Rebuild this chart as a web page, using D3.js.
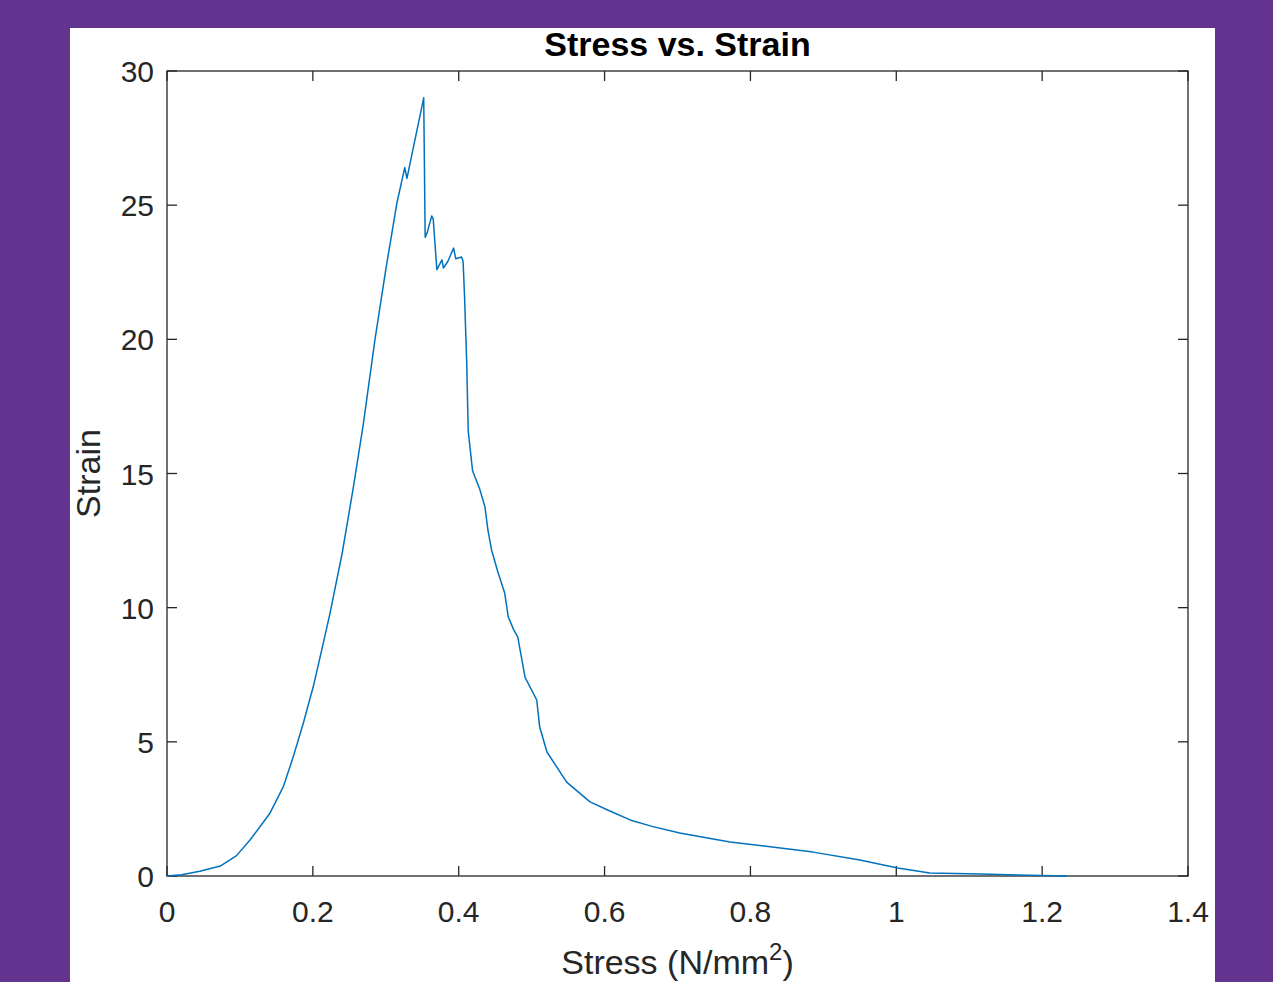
<!DOCTYPE html>
<html>
<head>
<meta charset="utf-8">
<script src="https://cdn.jsdelivr.net/npm/d3@7"></script>
<style>
  body { margin: 0; background: #62338f; }
  svg { display: block; }
  text { font-family: "Liberation Sans", Arial, Helvetica, sans-serif; fill: #262626; }
</style>
</head>
<body>
<svg id="chart"></svg>
<script>
// stress values (N/mm^2) and strain values
let stress = [0, 0.02, 0.045, 0.073, 0.095, 0.1138, 0.1412, 0.1595, 0.1732, 0.1869, 0.2006, 0.2121, 0.2235,
  0.2327, 0.2400, 0.2475, 0.255, 0.269, 0.2852, 0.300, 0.3154,
  0.326, 0.329, 0.352, 0.354, 0.357, 0.363, 0.365, 0.370, 0.377, 0.379, 0.385, 0.393, 0.396, 0.404, 0.406,
  0.408, 0.411, 0.413, 0.419, 0.429, 0.436, 0.440, 0.445, 0.454, 0.463, 0.468, 0.475, 0.481, 0.491, 0.507,
  0.511, 0.521, 0.548, 0.580, 0.605, 0.635, 0.665, 0.703, 0.772, 0.841, 0.886, 0.95, 1.002, 1.046, 1.115, 1.234];
let strain = [0, 0.05, 0.18, 0.37, 0.75, 1.34, 2.34, 3.33, 4.45, 5.69, 7.06, 8.42, 9.79,
  11.03, 12.0, 13.2, 14.4, 16.8, 20.0, 22.6, 25.1,
  26.4, 26.0, 29.0, 23.8, 24.0, 24.6, 24.5, 22.6, 22.96, 22.66, 22.9, 23.4, 23.0, 23.07, 22.9,
  21.6, 19.1, 16.6, 15.1, 14.4, 13.75, 12.9, 12.15, 11.3, 10.55, 9.65, 9.2, 8.9, 7.4, 6.56,
  5.56, 4.62, 3.5, 2.76, 2.45, 2.09, 1.85, 1.6, 1.27, 1.04, 0.89, 0.6, 0.3, 0.11, 0.07, 0];

let xTicks = [0, 0.2, 0.4, 0.6, 0.8, 1, 1.2, 1.4];
let yTicks = [0, 5, 10, 15, 20, 25, 30];

let width = 1273, height = 982;
let svg = d3.select('#chart').attr('width', width).attr('height', height);

// white figure panel
svg.append('rect')
  .attr('x', 70).attr('y', 28)
  .attr('width', 1145).attr('height', 954)
  .attr('fill', '#ffffff');

let plotLeft = 167, plotRight = 1188, plotTop = 71, plotBottom = 876;

let x = d3.scaleLinear().domain([0, 1.4]).range([plotLeft, plotRight]);
let y = d3.scaleLinear().domain([0, 30]).range([plotBottom, plotTop]);

let tickLen = 10;
let axisColor = '#262626';

// box
svg.append('rect')
  .attr('x', plotLeft).attr('y', plotTop)
  .attr('width', plotRight - plotLeft).attr('height', plotBottom - plotTop)
  .attr('fill', 'none')
  .attr('stroke', axisColor)
  .attr('stroke-width', 1.3);

let g = svg.append('g');

// x ticks bottom + top (inward)
g.selectAll('.xt').data(xTicks).enter()
  .append('line')
    .attr('x1', d => x(d)).attr('x2', d => x(d))
    .attr('y1', plotBottom).attr('y2', plotBottom - tickLen)
    .attr('stroke', axisColor).attr('stroke-width', 1.3);
g.selectAll('.xtt').data(xTicks).enter()
  .append('line')
    .attr('x1', d => x(d)).attr('x2', d => x(d))
    .attr('y1', plotTop).attr('y2', plotTop + tickLen)
    .attr('stroke', axisColor).attr('stroke-width', 1.3);

// y ticks left + right
g.selectAll('.yt').data(yTicks).enter()
  .append('line')
    .attr('x1', plotLeft).attr('x2', plotLeft + tickLen)
    .attr('y1', d => y(d)).attr('y2', d => y(d))
    .attr('stroke', axisColor).attr('stroke-width', 1.3);
g.selectAll('.ytr').data(yTicks).enter()
  .append('line')
    .attr('x1', plotRight).attr('x2', plotRight - tickLen)
    .attr('y1', d => y(d)).attr('y2', d => y(d))
    .attr('stroke', axisColor).attr('stroke-width', 1.3);

// tick labels
g.selectAll('.xl').data(xTicks).enter()
  .append('text')
    .attr('x', d => x(d))
    .attr('y', plotBottom + 46)
    .attr('text-anchor', 'middle')
    .style('font-size', '30px')
    .text(d => d);

g.selectAll('.yl').data(yTicks).enter()
  .append('text')
    .attr('x', plotLeft - 13)
    .attr('y', d => y(d) + 11)
    .attr('text-anchor', 'end')
    .style('font-size', '30px')
    .text(d => d);

// the curve
let line = d3.line()
  .x((d, i) => x(stress[i]))
  .y((d, i) => y(strain[i]));

svg.append('path')
  .datum(stress)
  .attr('d', line)
  .attr('fill', 'none')
  .attr('stroke', '#0072bd')
  .attr('stroke-width', 1.5)
  .attr('stroke-linejoin', 'round');

// title
svg.append('text')
  .attr('x', (plotLeft + plotRight) / 2)
  .attr('y', 56)
  .attr('text-anchor', 'middle')
  .style('font-size', '34px')
  .style('font-weight', 'bold')
  .style('fill', '#000')
  .text('Stress vs. Strain');

// x label
let xl = svg.append('text')
  .attr('x', (plotLeft + plotRight) / 2)
  .attr('y', 974)
  .attr('text-anchor', 'middle')
  .style('font-size', '34px');
xl.append('tspan').text('Stress (N/mm');
xl.append('tspan').attr('dy', -14).style('font-size', '24px').text('2');
xl.append('tspan').attr('dy', 14).text(')');

// y label
svg.append('text')
  .attr('transform', `translate(100, ${(plotTop + plotBottom) / 2}) rotate(-90)`)
  .attr('text-anchor', 'middle')
  .style('font-size', '34px')
  .text('Strain');
</script>
</body>
</html>
